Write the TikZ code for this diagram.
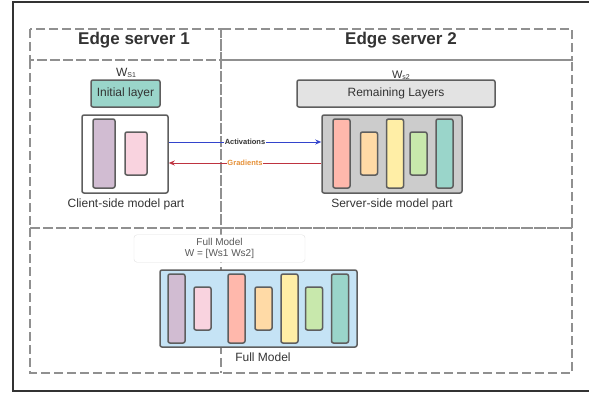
\documentclass[tikz,border=0pt]{standalone}
\usepackage{fontspec}
\setmainfont{Liberation Sans}
\usetikzlibrary{%
  arrows.meta,%
  positioning
}

\definecolor{txtgray}{HTML}{333333}
\definecolor{edgegray}{HTML}{5E5E5E}
\definecolor{dashgray}{HTML}{909090}
\definecolor{lpurple}{HTML}{D1BCD2}
\definecolor{lpink}{HTML}{F9D3DF}
\definecolor{lred}{HTML}{FFB8AC}
\definecolor{lorange}{HTML}{FFDAA6}
\definecolor{lyellow}{HTML}{FFEEA6}
\definecolor{lgreen}{HTML}{C8E8AC}
\definecolor{lteal}{HTML}{9AD5CA}
\definecolor{lblue}{HTML}{C5E3F5}
\definecolor{actblue}{HTML}{3344CC}
\definecolor{gradred}{HTML}{BE3340}
\definecolor{gradorange}{HTML}{E69138}

\tikzset{
  region/.style={draw=dashgray,line width=2.4pt,dash pattern=on 9pt off 4pt},
  part/.style={draw=edgegray,line width=1.5pt,rounded corners=2pt},
  bar/.style={part,minimum width=17pt},
  tall/.style={bar,minimum height=69pt},
  short/.style={bar,minimum height=43pt},
  lbl/.style={text=txtgray,font=\fontsize{12}{14}\selectfont,inner sep=1pt},
  flow/.style={line width=1pt,-{Stealth[length=6pt,width=5pt]}}
}

\newcommand\wsub[1]{W{\fontsize{7}{7}\selectfont\raisebox{-1pt}{#1}}}

\begin{document}
\begin{tikzpicture}[x=1pt,y=-1pt]
      \useasboundingbox (0,0) rectangle (589,392);
      % outer frame
      \draw [txtgray,line width=1.2pt] (13,2) rectangle (610,391);
      % regions
      \draw [region] (30,29) rectangle (221,60);
      \draw [region] (221,29) rectangle (572,60);
      \draw [region] (30,60) rectangle (221,228);
      \draw [region] (221,60) rectangle (572,228);
      \draw [region] (30,228) rectangle (572,373);
      \draw [region] (221,228) -- (221,373);
      \node [text=txtgray,font=\bfseries\fontsize{17}{20}\selectfont] (es1) at (134,40) {Edge server 1};
      \node [text=txtgray,font=\bfseries\fontsize{17}{20}\selectfont] (es2) at (401,40) {Edge server 2};

      % client side
      \node [lbl] (ws1) at (126,73) {\wsub{S1}};
      \node [part,fill=lteal,minimum width=69pt,minimum height=27pt,lbl] (init) at (125.5,93.5) {Initial layer};
      \node [part,fill=white,minimum width=86pt,minimum height=78pt] (client) at (125,154) {};
      \node [tall,fill=lpurple,minimum width=22pt] (c1) at (104,153.5) {};
      \node [short,fill=lpink,minimum width=22pt] (c2) at (136,153.5) {};
      \node [lbl] (clientlbl) at (126,204) {Client-side model part};

      % server side
      \node [lbl,font=\fontsize{11}{13}\selectfont] (ws2) at (401,75) {\wsub{s2}};
      \node [part,fill=black!11,minimum width=198pt,minimum height=27pt,lbl] (rem) at (396,93.5) {Remaining Layers};
      \node [part,fill=black!20,minimum width=140pt,minimum height=78pt] (server) at (392,154) {};
      \node [tall,fill=lred] (s1) at (341.5,153.5) {};
      \node [short,fill=lorange] (s2) at (369,153.5) {};
      \node [tall,fill=lyellow] (s3) at (395,153.5) {};
      \node [short,fill=lgreen] (s4) at (418.5,153.5) {};
      \node [tall,fill=lteal] (s5) at (444.5,153.5) {};
      \node [lbl] (serverlbl) at (392,204) {Server-side model part};

      % activations and gradients
      \draw [flow,actblue] ([yshift=12pt]client.east) -- ([yshift=12pt]server.west)
        node [midway,fill=white,inner sep=0.5pt,text=txtgray,font=\bfseries\fontsize{7.5}{8}\selectfont] {Activations};
      \draw [flow,gradred] ([yshift=-9pt]server.west) -- ([yshift=-9pt]client.east)
        node [midway,fill=white,inner sep=0.5pt,text=gradorange,font=\bfseries\fontsize{7.5}{8}\selectfont] {Gradients};

      % full model
      \node [draw=black!12,fill=white,rounded corners=3pt,minimum width=171pt,minimum height=25pt,
        align=center,text=black!65,font=\fontsize{10}{11.5}\selectfont] (fulltag) at (219.5,248.5)
        {Full Model\\W = [Ws1 Ws2]};
      \node [part,fill=lblue,minimum width=197pt,minimum height=77pt] (full) at (258.5,308.5) {};
      \node [tall,fill=lpurple] (f1) at (176.5,308.5) {};
      \node [short,fill=lpink] (f2) at (202.5,308.5) {};
      \node [tall,fill=lred] (f3) at (236.5,308.5) {};
      \node [short,fill=lorange] (f4) at (263.5,308.5) {};
      \node [tall,fill=lyellow] (f5) at (289.5,308.5) {};
      \node [short,fill=lgreen] (f6) at (314,308.5) {};
      \node [tall,fill=lteal] (f7) at (340,308.5) {};
      \node [lbl] (fulllbl) at (263,357) {Full Model};
\end{tikzpicture}
\end{document}
